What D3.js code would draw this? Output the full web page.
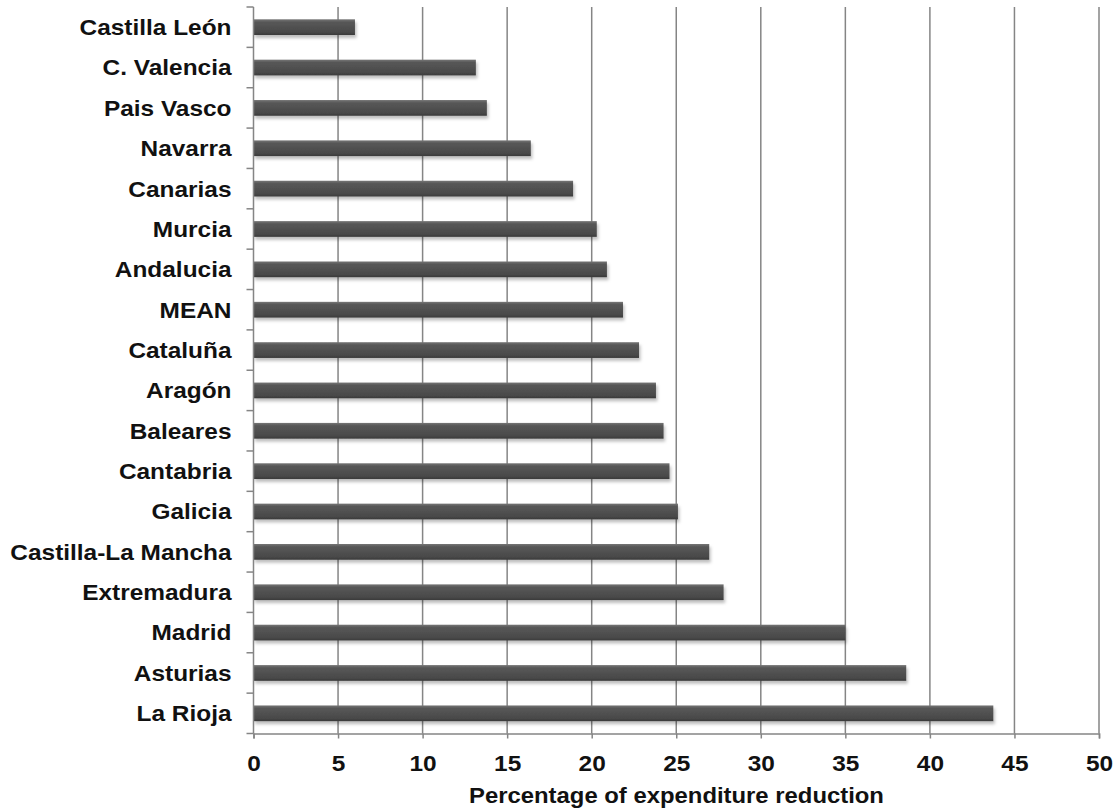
<!DOCTYPE html>
<html>
<head>
<meta charset="utf-8">
<script src="https://cdn.jsdelivr.net/npm/d3@7"></script>
<style>
  html, body { margin: 0; padding: 0; background: #fff; }
  svg { display: block; }
  text { font-family: "Liberation Sans", Arial, Helvetica, sans-serif; font-weight: bold; fill: #111; }
</style>
</head>
<body>
<svg id="chart" width="1116" height="809"></svg>
<script>
// Regions, top to bottom as drawn
const regions = [
  "Castilla León", "C. Valencia", "Pais Vasco", "Navarra", "Canarias", "Murcia",
  "Andalucia", "MEAN", "Cataluña", "Aragón", "Baleares", "Cantabria", "Galicia",
  "Castilla-La Mancha", "Extremadura", "Madrid", "Asturias", "La Rioja"
];
// Percentage of expenditure reduction per region
const reduction = [
  6.0, 13.15, 13.8, 16.4, 18.9, 20.3,
  20.9, 21.85, 22.8, 23.8, 24.25, 24.6, 25.1,
  26.95, 27.8, 35.0, 38.6, 43.75
];
const xTicks = [0, 5, 10, 15, 20, 25, 30, 35, 40, 45, 50];
const xTitle = "Percentage of expenditure reduction";

const data = regions.map((r, i) => ({ region: r, value: reduction[i] }));

const svg = d3.select("#chart");
const plotLeft = 253.5, plotRight = 1099, plotTop = 7, plotBottom = 733.5;
const stretch = 1.11; // glyphs are drawn slightly wide

const x = d3.scaleLinear().domain([0, 50]).range([plotLeft, plotRight]);
const y = d3.scaleBand().domain(regions).range([plotTop, plotBottom]).padding(0);

const defs = svg.append("defs");
const grad = defs.append("linearGradient")
  .attr("id", "barFill").attr("x1", 0).attr("y1", 0).attr("x2", 0).attr("y2", 1);
grad.append("stop").attr("offset", "0%").attr("stop-color", "#767676");
grad.append("stop").attr("offset", "18%").attr("stop-color", "#575757");
grad.append("stop").attr("offset", "80%").attr("stop-color", "#4a4a4a");
grad.append("stop").attr("offset", "100%").attr("stop-color", "#3a3a3a");

const shadow = defs.append("filter").attr("id", "barShadow")
  .attr("x", "-5%").attr("y", "-40%").attr("width", "115%").attr("height", "200%");
shadow.append("feDropShadow")
  .attr("dx", 1.5).attr("dy", 3).attr("stdDeviation", 1.8)
  .attr("flood-color", "#000").attr("flood-opacity", 0.25);

// Vertical gridlines
svg.append("g")
  .selectAll("line")
  .data(xTicks.filter(d => d > 0))
  .join("line")
  .attr("x1", d => x(d)).attr("x2", d => x(d))
  .attr("y1", plotTop).attr("y2", plotBottom)
  .attr("stroke", "#858585").attr("stroke-width", 1.5);

// Bars
const barH = y.bandwidth() * 0.39;
svg.append("g")
  .selectAll("rect")
  .data(data)
  .join("rect")
  .attr("x", x(0))
  .attr("y", d => y(d.region) + y.bandwidth() / 2 - barH / 2)
  .attr("width", d => x(d.value) - x(0))
  .attr("height", barH)
  .attr("fill", "url(#barFill)")
  .attr("filter", "url(#barShadow)");

// Y axis: line and ticks at band boundaries
const yAxisG = svg.append("g");
yAxisG.append("line")
  .attr("x1", plotLeft).attr("x2", plotLeft).attr("y1", plotTop).attr("y2", plotBottom)
  .attr("stroke", "#858585").attr("stroke-width", 1.5);
const bounds = regions.map(r => y(r)).concat([plotBottom]);
yAxisG.selectAll("line.tick")
  .data(bounds)
  .join("line")
  .attr("class", "tick")
  .attr("x1", plotLeft - 7).attr("x2", plotLeft)
  .attr("y1", d => d).attr("y2", d => d)
  .attr("stroke", "#858585").attr("stroke-width", 1.5);

// Region labels
svg.append("g")
  .selectAll("text")
  .data(data)
  .join("text")
  .attr("text-anchor", "end")
  .attr("font-size", 22)
  .attr("transform", d => `translate(231.5,${y(d.region) + y.bandwidth() / 2 + 7.9}) scale(${stretch},1)`)
  .text(d => d.region);

// X axis
const xAxis = d3.axisBottom(x).tickValues(xTicks).tickSize(5).tickPadding(0).tickFormat(d3.format("d"));
const xAxisG = svg.append("g").attr("transform", `translate(0,${plotBottom})`).call(xAxis);
xAxisG.select(".domain").attr("stroke", "#858585").attr("stroke-width", 1.5);
xAxisG.selectAll(".tick line").attr("stroke", "#858585").attr("stroke-width", 1.5);
xAxisG.selectAll(".tick text")
  .attr("font-size", 22)
  .attr("font-family", null)
  .attr("fill", "#111")
  .attr("y", null).attr("dy", null)
  .attr("transform", `translate(0,37) scale(${stretch},1)`);

// X axis title
svg.append("text")
  .attr("text-anchor", "middle")
  .attr("font-size", 21.5)
  .attr("transform", `translate(676.5,803) scale(${stretch},1)`)
  .text(xTitle);
</script>
</body>
</html>
